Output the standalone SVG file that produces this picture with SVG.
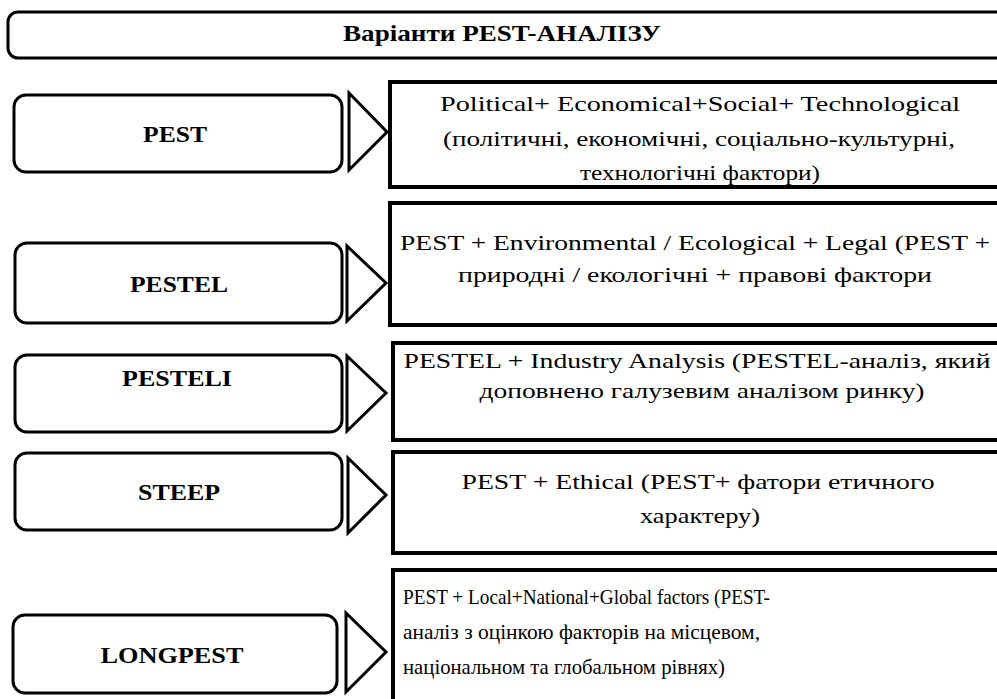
<svg xmlns="http://www.w3.org/2000/svg" width="997" height="699" viewBox="0 0 997 699" font-family="'Liberation Serif', 'DejaVu Serif', Times, serif">
  <style>
    .title { fill: #fff; stroke: #000; stroke-width: 3; }
    .pill { fill: #fff; stroke: #000; stroke-width: 3; }
    .box { fill: #fff; stroke: #000; stroke-width: 4; }
    .tri { fill: #fff; stroke: #000; stroke-width: 3; stroke-linejoin: miter; }
    text { fill: #000; }
    .lbl { font-weight: bold; font-size: 23px; text-anchor: middle; }
    .txt { font-size: 21px; }
    .c { text-anchor: middle; }
  </style>
  <rect width="997" height="699" fill="#fff"/>

  <g id="title">
    <rect class="title" x="8" y="12" width="1010" height="46" rx="10"/>
    <text class="lbl" x="502" y="41" textLength="318" lengthAdjust="spacingAndGlyphs">Варіанти PEST-АНАЛІЗУ</text>
  </g>

  <g id="pest">
    <rect class="pill" x="14" y="95" width="328" height="77" rx="12"/>
    <text class="lbl" x="175" y="142" textLength="64" lengthAdjust="spacingAndGlyphs">PEST</text>
  </g>
  <g id="pest-desc">
    <rect class="box" x="390" y="82" width="620" height="105"/>
    <text class="txt c" x="700" y="111" textLength="520" lengthAdjust="spacingAndGlyphs">Political+  Economical+Social+  Technological</text>
    <text class="txt c" x="699" y="146" textLength="512" lengthAdjust="spacingAndGlyphs">(політичні,  економічні,  соціально-культурні,</text>
    <text class="txt c" x="700" y="180" textLength="240" lengthAdjust="spacingAndGlyphs">технологічні  фактори)</text>
  </g>

  <g id="pestel">
    <rect class="pill" x="15" y="243" width="327" height="80" rx="12"/>
    <text class="lbl" x="179" y="292" textLength="98" lengthAdjust="spacingAndGlyphs">PESTEL</text>
  </g>
  <g id="pestel-desc">
    <rect class="box" x="390" y="203" width="620" height="122"/>
    <text class="txt c" x="695" y="250" textLength="590" lengthAdjust="spacingAndGlyphs">PEST + Environmental  / Ecological  + Legal  (PEST +</text>
    <text class="txt c" x="695" y="282" textLength="474" lengthAdjust="spacingAndGlyphs">природні / екологічні  + правові фактори</text>
  </g>

  <g id="pesteli">
    <rect class="pill" x="15" y="355" width="327" height="77" rx="12"/>
    <text class="lbl" x="177" y="386" textLength="110" lengthAdjust="spacingAndGlyphs">PESTELI</text>
  </g>
  <g id="pesteli-desc">
    <rect class="box" x="393" y="343" width="620" height="97"/>
    <text class="txt c" x="697" y="368" textLength="587" lengthAdjust="spacingAndGlyphs">PESTEL  + Industry  Analysis  (PESTEL-аналіз,  який</text>
    <text class="txt c" x="702" y="398" textLength="445" lengthAdjust="spacingAndGlyphs">доповнено галузевим аналізом  ринку)</text>
  </g>

  <g id="steep">
    <rect class="pill" x="15" y="453" width="327" height="77" rx="12"/>
    <text class="lbl" x="179" y="500" textLength="82" lengthAdjust="spacingAndGlyphs">STEEP</text>
  </g>
  <g id="steep-desc">
    <rect class="box" x="393" y="452" width="620" height="101"/>
    <text class="txt c" x="698" y="489" textLength="473" lengthAdjust="spacingAndGlyphs">PEST + Ethical  (PEST+ фатори  етичного</text>
    <text class="txt c" x="700" y="523" textLength="120" lengthAdjust="spacingAndGlyphs">характеру)</text>
  </g>

  <g id="longpest">
    <rect class="pill" x="13" y="615" width="324" height="78" rx="12"/>
    <text class="lbl" x="172" y="663" textLength="143" lengthAdjust="spacingAndGlyphs">LONGPEST</text>
  </g>
  <g id="longpest-desc">
    <rect class="box" x="393" y="570" width="620" height="140"/>
    <text class="txt" x="403" y="604" textLength="367" lengthAdjust="spacingAndGlyphs">PEST + Local+National+Global  factors  (PEST-</text>
    <text class="txt" x="403" y="639" textLength="357" lengthAdjust="spacingAndGlyphs">аналіз з оцінкою факторів  на місцевом,</text>
    <text class="txt" x="403" y="674" textLength="322" lengthAdjust="spacingAndGlyphs">національном та глобальном рівнях)</text>
  </g>

  <g id="connectors">
    <polygon class="tri" points="349,93 387,132 349,170"/>
    <polygon class="tri" points="347,246 386,283 347,321"/>
    <polygon class="tri" points="347,356 386,393 347,431"/>
    <polygon class="tri" points="348,458 386,495 348,533"/>
    <polygon class="tri" points="346,613 386,652 346,692"/>
  </g>
</svg>
